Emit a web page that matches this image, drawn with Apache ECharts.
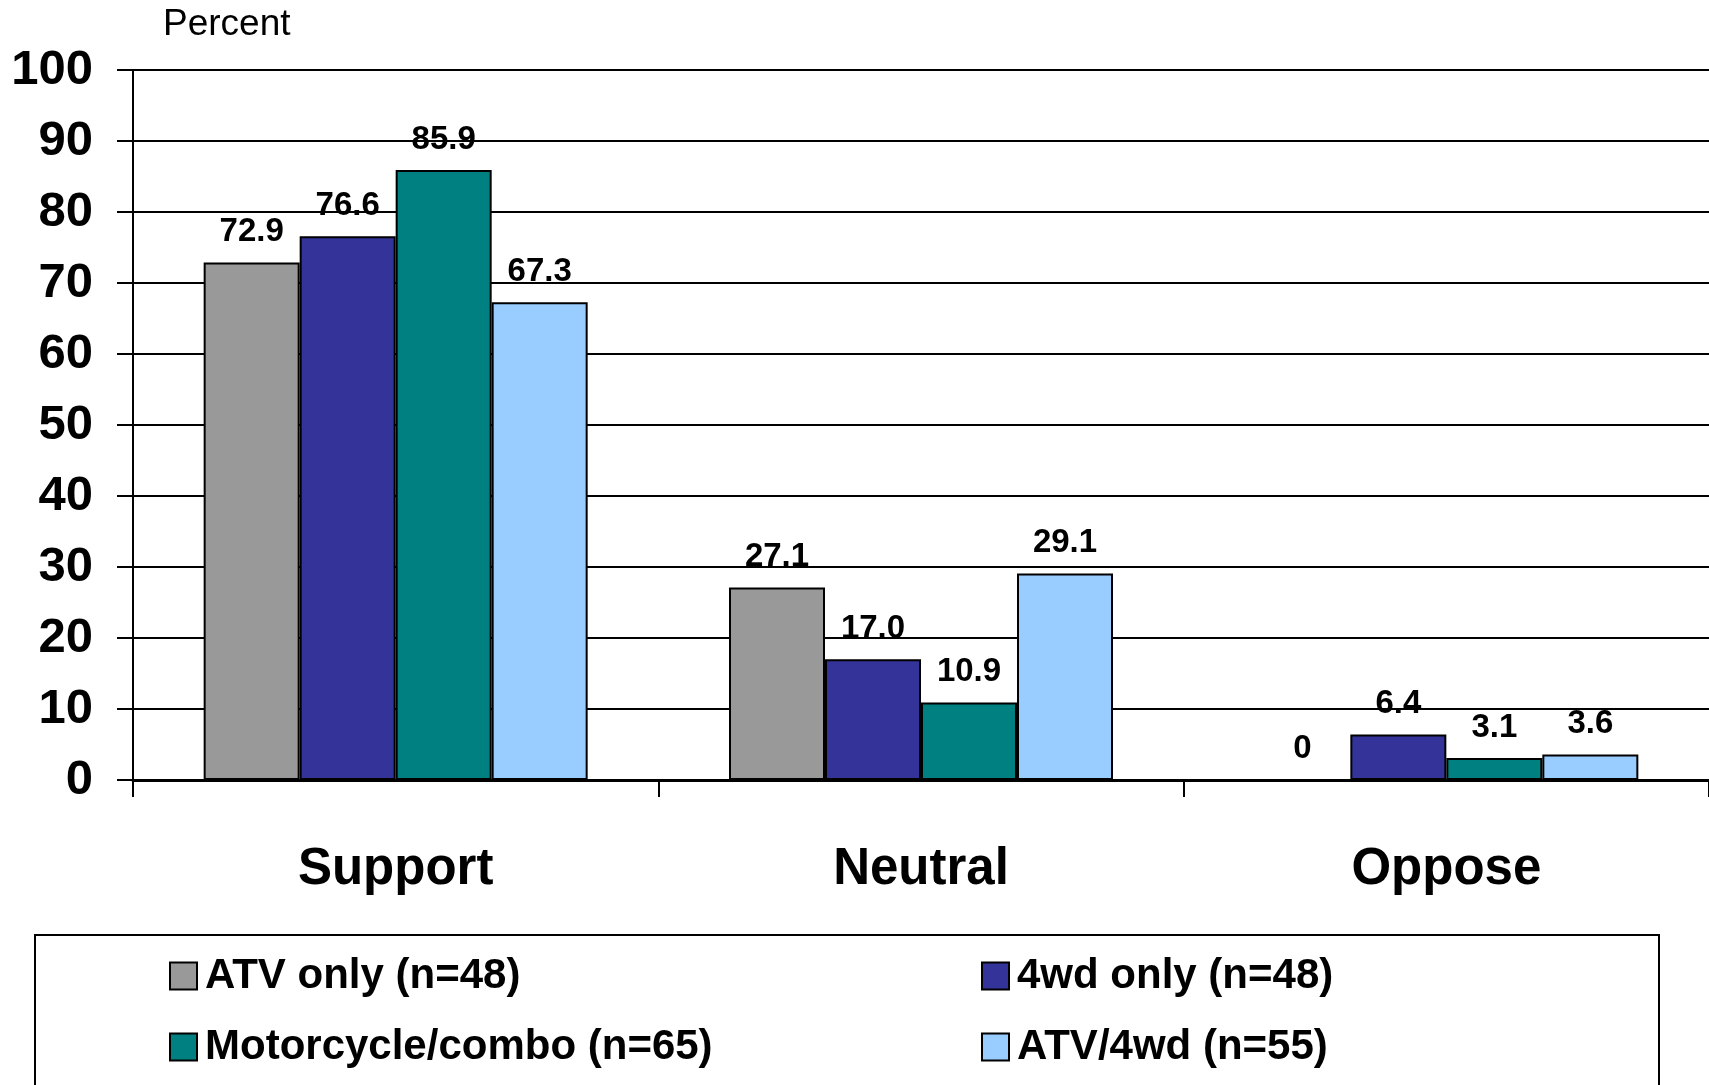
<!DOCTYPE html>
<html>
<head>
<meta charset="utf-8">
<script src="https://cdn.jsdelivr.net/npm/echarts@6/dist/echarts.min.js"></script>
<style>
  html, body { margin: 0; padding: 0; background: #fff; }
  #chart { width: 1709px; height: 1085px; }
</style>
</head>
<body>
<div id="chart"></div>
<script>
var categories = ['Support', 'Neutral', 'Oppose'];
var seriesNames = ['ATV only (n=48)', '4wd only (n=48)', 'Motorcycle/combo (n=65)', 'ATV/4wd (n=55)'];
var atvOnly = [72.9, 27.1, 0];
var fourWdOnly = [76.6, 17.0, 6.4];
var motoCombo = [85.9, 10.9, 3.1];
var atvFourWd = [67.3, 29.1, 3.6];
var colors = ['#999999', '#333399', '#008080', '#99ccff'];

var fontFamily = '"Liberation Sans", Arial, sans-serif';
var myChart = echarts.init(document.getElementById('chart'));

function makeSeries(name, data, color) {
  return {
    name: name,
    type: 'bar',
    data: data,
    barWidth: 96,
    barGap: '0%',
    itemStyle: { color: color, borderColor: '#000', borderWidth: 2 },
    label: {
      show: true,
      position: 'top',
      distance: 14,
      color: '#000',
      fontFamily: fontFamily,
      fontWeight: 'bold',
      fontSize: 33,
      formatter: function (p) { return p.value === 0 ? '0' : p.value.toFixed(1); }
    }
  };
}

var legendText = { fontFamily: fontFamily, fontWeight: 'bold', fontSize: 42, color: '#000', padding: [0, 0, 0, 3] };

var option = {
  animation: false,
  backgroundColor: '#fff',
  title: {
    text: 'Percent',
    left: 158,
    top: 1,
    textStyle: { fontFamily: fontFamily, fontWeight: 'normal', fontSize: 37, color: '#000' }
  },
  grid: { left: 133, top: 70, right: -3, bottom: 305 },
  xAxis: {
    type: 'category',
    data: categories,
    axisLine: { lineStyle: { color: '#000', width: 3 } },
    axisTick: { show: true, length: 17, lineStyle: { color: '#000', width: 2 } },
    axisLabel: {
      margin: 64,
      color: '#000',
      fontFamily: fontFamily,
      fontWeight: 'bold',
      fontSize: 51
    }
  },
  yAxis: {
    type: 'value',
    min: 0,
    max: 100,
    interval: 10,
    axisLine: { show: true, lineStyle: { color: '#000', width: 2 } },
    axisTick: { show: true, length: 16, lineStyle: { color: '#000', width: 2 } },
    splitLine: { lineStyle: { color: '#000', width: 2 } },
    axisLabel: {
      margin: 40,
      color: '#000',
      fontFamily: fontFamily,
      fontWeight: 'bold',
      fontSize: 49
    }
  },
  legend: [
    {
      orient: 'vertical',
      left: 164,
      top: 950,
      icon: 'rect',
      itemWidth: 27,
      itemHeight: 27,
      itemGap: 29,
      data: [seriesNames[0], seriesNames[2]],
      textStyle: legendText
    },
    {
      orient: 'vertical',
      left: 976,
      top: 950,
      icon: 'rect',
      itemWidth: 27,
      itemHeight: 27,
      itemGap: 29,
      data: [seriesNames[1], seriesNames[3]],
      textStyle: legendText
    }
  ],
  graphic: [
    {
      type: 'rect',
      shape: { x: 35, y: 935, width: 1624, height: 200 },
      style: { fill: 'none', stroke: '#000', lineWidth: 2 },
      z: -1
    }
  ],
  series: [
    makeSeries(seriesNames[0], atvOnly, colors[0]),
    makeSeries(seriesNames[1], fourWdOnly, colors[1]),
    makeSeries(seriesNames[2], motoCombo, colors[2]),
    makeSeries(seriesNames[3], atvFourWd, colors[3])
  ]
};

option && myChart.setOption(option);
</script>
</body>
</html>
